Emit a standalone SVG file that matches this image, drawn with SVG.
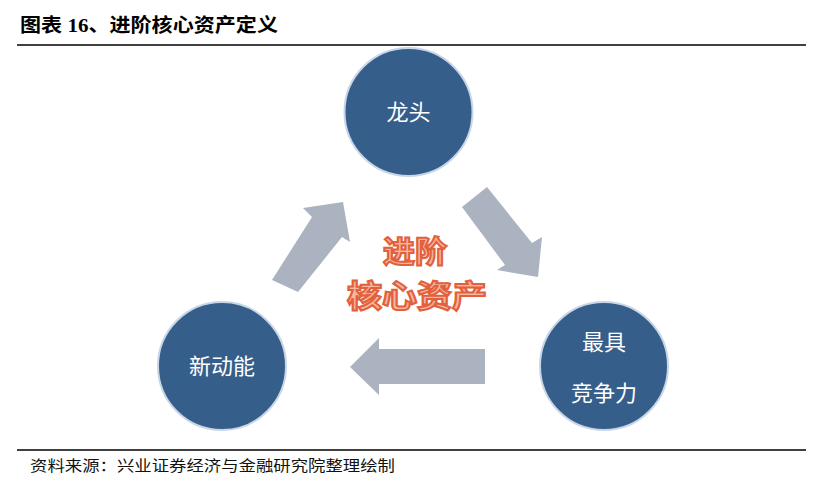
<svg xmlns="http://www.w3.org/2000/svg" width="818" height="492" viewBox="0 0 818 492">
<style>
.title{font-family:"Liberation Serif","Noto Sans CJK SC",serif;font-weight:bold;font-size:19px;fill:#000}
.src{font-family:"Liberation Serif","Noto Sans CJK SC",serif;font-size:15px;fill:#111}
.rule{stroke:#000;stroke-width:1.5}
.node circle{fill:#365E8A;stroke:#C8D6E8;stroke-width:2}
.node text{font-family:"Noto Sans CJK SC","Microsoft YaHei",sans-serif;font-size:22px;fill:#fff;text-anchor:middle}
.arrow{fill:#AAB3BF}
.center{font-family:"Noto Sans CJK SC",sans-serif;font-weight:bold;fill:#F8B69E;stroke:#E2603C;stroke-width:2;text-anchor:middle}
</style>
<rect width="818" height="492" fill="#fff"/>
<text class="title" x="20" y="32" textLength="258" lengthAdjust="spacingAndGlyphs">图表 16、进阶核心资产定义</text>
<line class="rule" x1="17" y1="45" x2="806" y2="45"/>
<g id="connectors">
<polygon class="arrow" points="272,280 312,217 303,208 343,202 350,242 342,237 298,292"/>
<polygon class="arrow" points="487,187 532,243 542,237 538,277 497,270 505,265 462,207"/>
<polygon class="arrow" points="350,367 379,338 379,349 485,349 485,384 379,384 379,395"/>
</g>
<g id="node-longtou" class="node">
<circle cx="408.5" cy="112" r="64"/>
<text x="408.5" y="120">龙头</text>
</g>
<g id="node-xindongneng" class="node">
<circle cx="222" cy="366" r="64"/>
<text x="222" y="374">新动能</text>
</g>
<g id="node-zuiju" class="node">
<circle cx="604" cy="366" r="64"/>
<text x="604" y="350">最具</text>
<text x="604" y="401">竞争力</text>
</g>
<g id="center-label">
<text class="center" x="415" y="262" font-size="30" textLength="64" lengthAdjust="spacingAndGlyphs">进阶</text>
<text class="center" x="417" y="307" font-size="31" textLength="140" lengthAdjust="spacingAndGlyphs">核心资产</text>
</g>
<line class="rule" x1="17" y1="450" x2="806" y2="450"/>
<text class="src" x="30" y="471" textLength="365" lengthAdjust="spacingAndGlyphs">资料来源：兴业证券经济与金融研究院整理绘制</text>
</svg>
